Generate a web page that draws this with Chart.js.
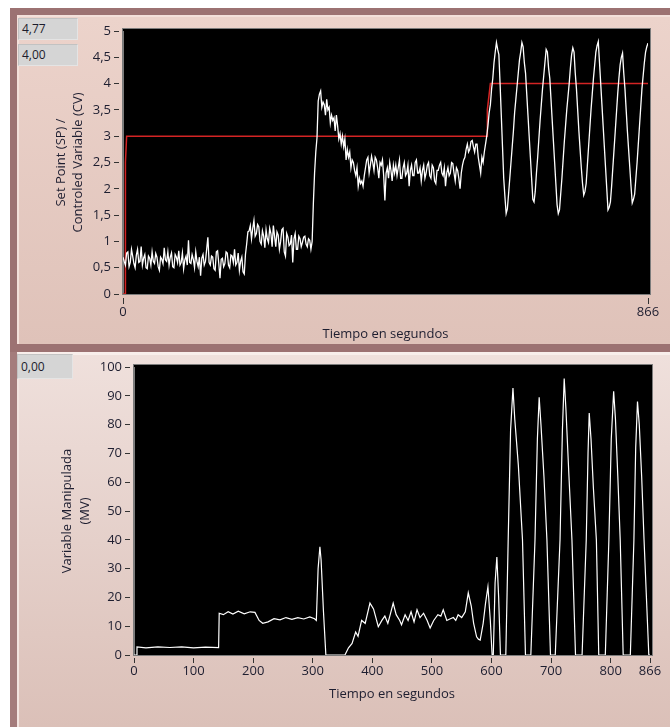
<!DOCTYPE html>
<html>
<head>
<meta charset="utf-8">
<script src="https://cdn.jsdelivr.net/npm/chart.js@4.4.0/dist/chart.umd.min.js"></script>
<style>
  body { margin: 0; background: #fff; width: 670px; height: 727px; overflow: hidden; position: relative; font-family: 'Open Sans', sans-serif; }
  #top { position: absolute; left: 10px; top: 8px; width: 660px; height: 344px; background: #9c7272; }
  #topIn { position: absolute; left: 7px; top: 7px; right: 0; bottom: 8px; box-sizing: border-box;
           background: linear-gradient(#ecd3cb, #dfc2b9); border-left: 2px solid #f3e0da; border-top: 2px solid #f3e0da; }
  #bot { position: absolute; left: 10px; top: 352px; width: 660px; height: 375px; background: #a47c7c; }
  #botIn { position: absolute; left: 7px; top: 0; right: 0; bottom: 0; box-sizing: border-box;
           background: linear-gradient(#efe0dc, #dbc0b8); border-left: 2px solid #f3e4e0; border-top: 3px solid #f8eeeb; }
  canvas { position: absolute; }
  .box { position: absolute; box-sizing: border-box; background: #d5d5d5; border: 1px solid #c2c2c2;
         border-right-color: #e4e4e4; border-bottom-color: #e4e4e4; font-size: 12px; color: #1c1c2c; padding-left: 3px; }
</style>
</head>
<body>
<div id="top"><div id="topIn"></div></div>
<div id="bot"><div id="botIn"></div></div>
<canvas id="cvChart" width="653" height="327" style="left:17px;top:17px;width:653px;height:327px"></canvas>
<canvas id="mvChart" width="653" height="373" style="left:17px;top:354px;width:653px;height:373px"></canvas>
<div class="box" style="left:18px;top:18px;width:60px;height:22px;line-height:20px">4,77</div>
<div class="box" style="left:18px;top:44px;width:60px;height:22px;line-height:20px">4,00</div>
<div class="box" style="left:17px;top:354px;width:56px;height:25px;line-height:23px">0,00</div>

<script>
// CV muestreada cada 2 s (0 .. 866 s)
const cvStep = 2;
const cvValues = [
  0.70, 0.62, 0.55, 0.78, 0.80, 0.52, 0.60, 0.85, 0.72, 0.58,
  0.50, 0.74, 0.85, 0.60, 0.62, 0.90, 0.55, 0.68, 0.75, 0.50,
  0.48, 0.72, 0.68, 0.55, 0.80, 0.62, 0.58, 0.77, 0.70, 0.52,
  0.45, 0.70, 0.66, 0.58, 0.88, 0.65, 0.62, 0.80, 0.55, 0.70,
  0.78, 0.52, 0.50, 0.75, 0.70, 0.60, 0.82, 0.55, 0.60, 0.78,
  0.48, 0.65, 0.72, 0.55, 1.02, 0.60, 0.58, 0.75, 0.66, 0.50,
  0.80, 0.62, 0.52, 0.70, 0.35, 0.68, 0.75, 0.55, 0.62, 0.85,
  1.08, 0.60, 0.55, 0.72, 0.70, 0.48, 0.45, 0.80, 0.82, 0.58,
  0.30, 0.66, 0.68, 0.52, 0.58, 0.80, 0.78, 0.55, 0.50, 0.74,
  0.72, 0.60, 0.85, 0.55, 0.60, 0.78, 0.45, 0.62, 0.70, 0.42,
  0.38, 0.75, 0.95, 1.18, 1.20, 1.30, 1.05, 1.25, 1.40, 1.10,
  1.15, 1.32, 1.28, 1.00, 0.95, 1.20, 1.10, 0.88, 1.22, 1.05,
  0.98, 1.25, 1.15, 0.90, 1.30, 1.10, 0.90, 1.18, 1.12, 0.85,
  1.00, 1.22, 1.25, 0.80, 0.72, 1.15, 1.08, 0.92, 0.95, 1.12,
  0.60, 1.05, 1.15, 0.85, 0.85, 1.10, 1.05, 0.90, 0.98, 1.08,
  1.10, 0.95, 0.90, 1.05, 1.02, 0.85, 1.00, 1.72, 2.30, 2.70,
  2.97, 3.67, 3.80, 3.86, 3.55, 3.65, 3.60, 3.40, 3.70, 3.50,
  3.55, 3.25, 3.40, 3.30, 3.35, 3.10, 3.40, 3.20, 2.95, 3.05,
  2.85, 3.00, 2.80, 2.95, 2.55, 2.75, 2.60, 2.70, 2.40, 2.55,
  2.50, 2.35, 2.25, 2.40, 2.05, 2.20, 2.10, 2.15, 2.05, 2.25,
  2.40, 2.55, 2.60, 2.30, 2.45, 2.62, 2.50, 2.35, 2.60, 2.55,
  2.40, 2.20, 2.50, 2.45, 2.55, 2.25, 1.78, 2.30, 2.40, 2.20,
  2.50, 2.35, 2.15, 2.45, 2.30, 2.45, 2.25, 2.40, 2.55, 2.20,
  2.20, 2.40, 2.50, 2.25, 2.30, 2.45, 2.05, 2.35, 2.45, 2.25,
  2.25, 2.50, 2.55, 2.30, 2.30, 2.40, 2.15, 2.35, 2.45, 2.20,
  2.30, 2.45, 2.50, 2.25, 2.20, 2.45, 2.40, 2.15, 2.10, 2.35,
  2.35, 2.45, 2.50, 2.30, 2.25, 2.40, 2.05, 2.30, 2.40, 2.25,
  2.30, 2.50, 2.48, 2.30, 2.15, 2.40, 2.35, 2.20, 2.00, 2.30,
  2.45, 2.55, 2.60, 2.75, 2.85, 2.70, 2.75, 2.90, 2.92, 2.80,
  2.70, 2.85, 2.85, 2.60, 2.45, 2.30, 2.60, 2.50, 2.70, 2.85,
  3.00, 3.20, 3.45, 3.60, 3.90, 4.10, 4.40, 4.60, 4.78, 4.65,
  4.55, 4.00, 3.40, 2.80, 2.20, 1.85, 1.53, 1.62, 1.90, 2.20,
  2.50, 2.80, 3.10, 3.45, 3.70, 3.95, 4.20, 4.45, 4.60, 4.78,
  4.70, 4.40, 4.20, 3.80, 3.40, 3.00, 2.60, 2.20, 1.80, 1.75,
  1.95, 2.30, 2.60, 2.95, 3.30, 3.60, 3.90, 4.15, 4.40, 4.65,
  4.60, 4.30, 4.10, 3.70, 3.30, 2.90, 2.50, 2.10, 1.70, 1.53,
  1.60, 1.90, 2.20, 2.55, 2.90, 3.20, 3.50, 3.75, 4.00, 4.30,
  4.55, 4.68, 4.60, 4.20, 3.90, 3.50, 3.10, 2.75, 2.40, 2.10,
  1.88, 1.95, 2.10, 2.45, 2.80, 3.15, 3.50, 3.80, 4.10, 4.35,
  4.60, 4.72, 4.80, 4.40, 4.00, 3.60, 3.20, 2.80, 2.40, 2.00,
  1.60, 1.65, 1.75, 2.05, 2.40, 2.75, 3.10, 3.45, 3.80, 4.10,
  4.35, 4.50, 4.58, 4.20, 3.90, 3.50, 3.10, 2.75, 2.40, 2.05,
  1.73, 1.80, 1.90, 2.20, 2.50, 2.85, 3.20, 3.55, 3.90, 4.15,
  4.40, 4.60, 4.70, 4.77
];

// Set Point
const spTime  = [0, 4, 4,   6, 601, 601, 606, 866];
const spValue = [0, 0, 2.5, 3, 3,   3.5, 4,   4];

// Variable manipulada
const mvTime = [
  0, 4, 5, 20, 40, 60, 80, 100, 120, 142,
  143, 150, 158, 166, 175, 185, 195, 203, 210, 216,
  225, 235, 245, 255, 265, 275, 285, 295, 303, 306,
  309, 312, 314, 318, 322, 354, 360, 366, 372, 376,
  382, 388, 396, 402, 410, 416, 421, 426, 430, 435,
  440, 446, 449, 455, 460, 465, 470, 475, 480, 486,
  492, 497, 503, 510, 515, 519, 525, 530, 536, 540,
  544, 550, 556, 561, 566, 570, 575, 578, 581, 586,
  590, 594, 598, 601, 603, 606, 609, 612, 615, 624,
  628, 632, 636, 639, 645, 652, 657, 666,
  673, 677, 680, 683, 688, 693, 699, 707,
  715, 719, 722, 725, 730, 735, 741, 752,
  759, 762, 764, 767, 771, 776, 780, 791,
  797, 801, 805, 808, 812, 816, 821, 833,
  839, 842, 845, 848, 852, 856, 864, 866
];
const mvValue = [
  0, 0, 2.8, 2.5, 2.8, 2.6, 2.8, 2.5, 2.7, 2.6,
  14.5, 14.0, 15.0, 14.2, 15.2, 14.3, 15.0, 14.8, 12.0, 11.0,
  11.5, 12.6, 12.2, 13.0, 12.4, 13.0, 12.5, 13.2, 12.6, 12.0,
  30.0, 37.6, 33.0, 15.0, 0, 0, 2.5, 4.0, 8.0, 6.5,
  12.0, 11.0, 18.0, 16.0, 9.8, 12.0, 13.5, 11.0, 14.0, 18.0,
  14.0, 12.0, 10.5, 14.0, 12.0, 15.0, 11.5, 15.7, 13.0, 14.5,
  12.0, 9.4, 12.0, 14.0, 13.5, 15.7, 12.0, 12.5, 13.0, 12.0,
  14.0, 13.0, 15.0, 21.6, 17.0, 11.0, 6.3, 5.5, 5.2, 11.0,
  18.0, 23.7, 12.0, 0, 0, 25.0, 34.0, 20.0, 0, 0,
  40, 78, 92.7, 82, 66, 40, 0, 0,
  40, 75, 89.5, 80, 62, 40, 0, 0,
  40, 78, 96, 85, 62, 40, 0, 0,
  40, 70, 84, 75, 58, 40, 0, 0,
  40, 75, 91.6, 82, 62, 40, 0, 0,
  40, 72, 88, 80, 62, 40, 0, 0
];

const cvXTicks = [0, 866];
const mvXTicks = [0, 100, 200, 300, 400, 500, 600, 700, 800, 866];

const uiFont = "'Open Sans', 'DejaVu Sans', sans-serif";
const textColor = '#1e1e30';
const comma = v => String(v).replace('.', ',');

// fondo negro del área de trazado
const plotBg = {
  id: 'plotBg',
  beforeDraw(chart) {
    const a = chart.chartArea, ctx = chart.ctx;
    ctx.save();
    ctx.fillStyle = '#000';
    ctx.fillRect(a.left, a.top - 2, a.right - a.left + 2, a.bottom - a.top + 2);
    ctx.strokeStyle = '#7c7c7c';
    ctx.lineWidth = 1;
    ctx.strokeRect(a.left - 0.5, a.top - 2.5, a.right - a.left + 3, a.bottom - a.top + 3);
    ctx.restore();
  }
};

function xAxis(ticksList, axisHeight, titlePad, tickLen, dash) {
  return {
    type: 'linear', min: 0, max: 866,
    afterBuildTicks: s => { s.ticks = ticksList.map(v => ({ value: v })); },
    afterFit: s => { s.height = axisHeight; },
    border: { color: '#7c7c7c' },
    grid: { drawOnChartArea: false, tickLength: tickLen, tickBorderDash: dash, tickColor: '#333' },
    ticks: { font: { family: uiFont, size: 13 }, color: textColor, padding: 0, maxRotation: 0, autoSkip: false },
    title: { display: true, text: 'Tiempo en segundos', font: { family: uiFont, size: 13 }, color: textColor, padding: { top: 0, bottom: titlePad } }
  };
}

function yAxis(max, step, axisWidth, titleText, titlePad, lh) {
  return {
    min: 0, max: max,
    afterFit: s => { s.width = axisWidth; },
    border: { color: '#7c7c7c' },
    grid: { drawOnChartArea: false, tickLength: 9, tickBorderDash: [5, 50], tickColor: '#333' },
    ticks: { stepSize: step, callback: comma, font: { family: uiFont, size: 13 }, color: textColor, padding: 3 },
    title: { display: true, text: titleText, font: { family: uiFont, size: 13, lineHeight: lh }, color: textColor, padding: { top: titlePad, bottom: 0 } }
  };
}

new Chart(document.getElementById('cvChart'), {
  type: 'line',
  data: {
    datasets: [
      {
        label: 'CV',
        data: cvValues.map((v, i) => ({ x: i * cvStep, y: v })),
        borderColor: '#ffffff', borderWidth: 1.3, pointRadius: 0
      },
      {
        label: 'SP',
        data: spTime.map((t, i) => ({ x: t, y: spValue[i] })),
        borderColor: '#d42424', borderWidth: 1.5, pointRadius: 0
      }
    ]
  },
  options: {
    responsive: false, animation: false,
    layout: { padding: { top: 14, right: 22, left: 0, bottom: 0 } },
    plugins: { legend: { display: false }, tooltip: { enabled: false } },
    scales: {
      x: xAxis(cvXTicks, 50, 2, 10, [0, 3, 7, 50]),
      y: yAxis(5, 0.5, 106, ['Set Point (SP) /', 'Controled Variable (CV)'], 35.5, 1.3)
    }
  },
  plugins: [plotBg]
});

new Chart(document.getElementById('mvChart'), {
  type: 'line',
  data: {
    datasets: [{
      label: 'MV',
      data: mvTime.map((t, i) => ({ x: t, y: mvValue[i] })),
      borderColor: '#ffffff', borderWidth: 1.2, pointRadius: 0
    }]
  },
  options: {
    responsive: false, animation: false,
    layout: { padding: { top: 13, right: 20, left: 0, bottom: 0 } },
    plugins: { legend: { display: false }, tooltip: { enabled: false } },
    scales: {
      x: xAxis(mvXTicks, 72, 25, 8, [0, 2, 6, 50]),
      y: yAxis(100, 10, 117, ['Variable Manipulada', '(MV)'], 41, 1.4)
    }
  },
  plugins: [plotBg]
});
</script>
</body>
</html>
